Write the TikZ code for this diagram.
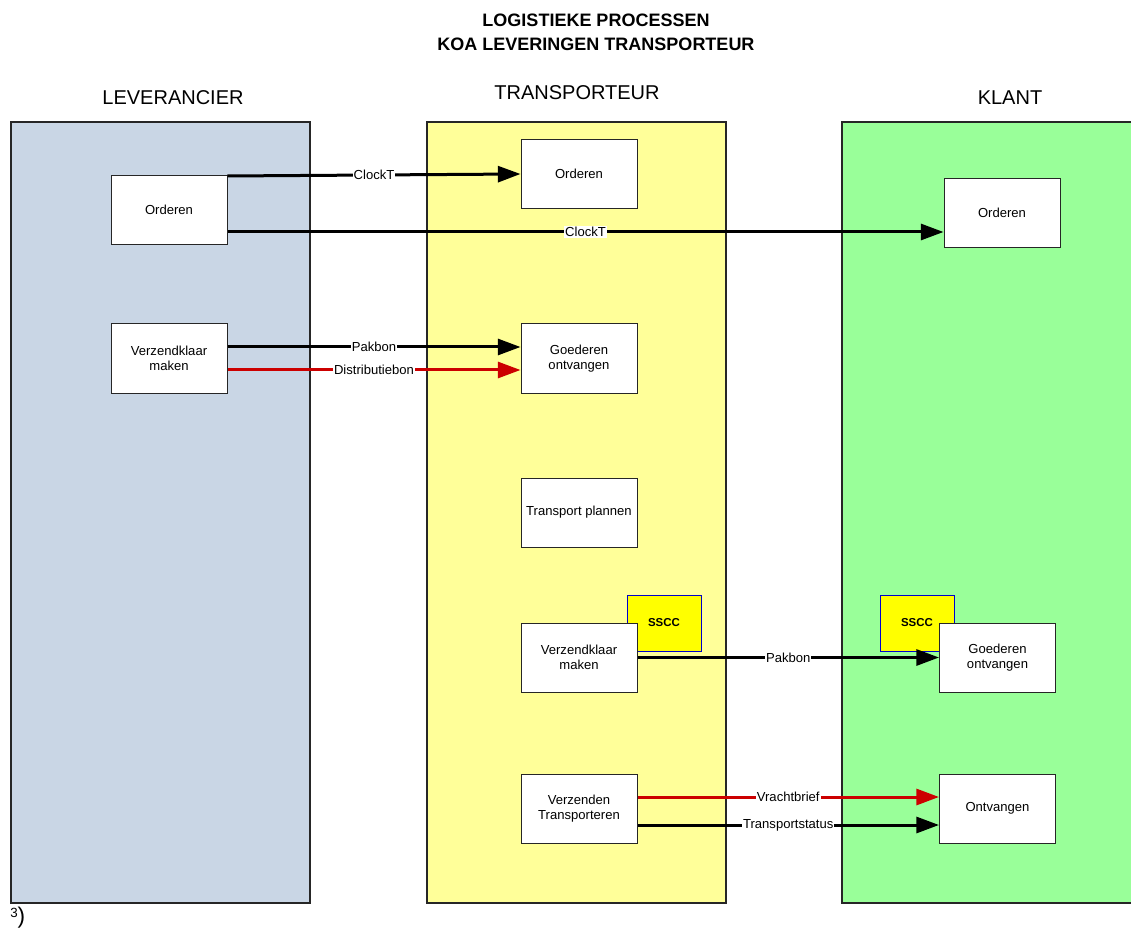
\documentclass[tikz,border=0pt]{standalone}
\usepackage{fontspec}
\setmainfont{Liberation Sans}
\usetikzlibrary{arrows.meta,calc}

\definecolor{laneblue}{RGB}{201,214,229}
\definecolor{laneyellow}{RGB}{255,255,153}
\definecolor{lanegreen}{RGB}{153,255,153}
\definecolor{ssccyellow}{RGB}{255,255,0}
\definecolor{flowred}{RGB}{204,0,0}

\tikzset{
  lane/.style={draw=black!85, line width=0.9pt, minimum width=224.25pt, minimum height=585.75pt, inner sep=0pt},
  lanehead/.style={font=\fontsize{15}{18}\selectfont},
  procbox/.style={draw=black!85, fill=white, line width=0.75pt, minimum width=87pt, minimum height=51.75pt,
    inner sep=0pt, align=center, font=\fontsize{9.8}{11.5}\selectfont},
  ssccbox/.style={draw=blue!80!black, fill=ssccyellow, line width=0.6pt, minimum width=55.5pt, minimum height=42pt,
    inner sep=0pt, font=\bfseries\fontsize{8.6}{10}\selectfont},
  flow/.style={line width=2.25pt, -{Triangle[length=17pt,width=12pt]}},
  redflow/.style={flow, draw=flowred, color=flowred},
  flowlabel/.style={fill=white, inner sep=0.8pt, text=black, font=\fontsize{9.8}{11}\selectfont},
}

\begin{document}
\begin{tikzpicture}[x=0.75pt, y=-0.75pt]
\useasboundingbox (0,0) rectangle (1131,930);

% title
\node[font=\bfseries\fontsize{13.5}{16}\selectfont] (title1) at (596,20) {LOGISTIEKE PROCESSEN};
\node[font=\bfseries\fontsize{13.5}{16}\selectfont] (title2) at (596,44) {KOA LEVERINGEN TRANSPORTEUR};

% lane headers
\node[lanehead] (hlev) at (173,98) {LEVERANCIER};
\node[lanehead] (htra) at (577,93) {TRANSPORTEUR};
\node[lanehead] (hkla) at (1010,98) {KLANT};

% swim lanes
\node[lane, fill=laneblue] (lanelev) at (160.5,512.5) {};
\node[lane, fill=laneyellow] (lanetra) at (576.5,512.5) {};
\fill[lanegreen] (842,122) rectangle (1131,903);
\draw[black!85, line width=0.9pt] (1131,122) -- (842,122) -- (842,903) -- (1131,903);

% SSCC labels (behind the process boxes)
\node[ssccbox] (sscct) at (664,623) {SSCC};
\node[ssccbox] (sscck) at (917,623) {SSCC};

% process boxes
\node[procbox] (lorder) at (169,210)   {Orderen};
\node[procbox] (torder) at (579,174)   {Orderen};
\node[procbox] (korder) at (1002,213)  {Orderen};
\node[procbox] (lverz)  at (169,358.5) {Verzendklaar\\maken};
\node[procbox] (tgoed)  at (579,358.5) {Goederen\\ontvangen};
\node[procbox] (tplan)  at (579,512.5) {Transport plannen};
\node[procbox] (tverz)  at (579,657.5) {Verzendklaar\\maken};
\node[procbox] (kgoed)  at (997.5,657.5) {Goederen\\ontvangen};
\node[procbox] (tvzd)   at (579,808.5) {Verzenden\\Transporteren};
\node[procbox] (kontv)  at (997.5,808.5) {Ontvangen};

% message flows
\coordinate (c1) at ($(lorder.north east)+(0,1)$);
\draw[flow] (c1) -- node[flowlabel] {ClockT} (torder.west);

\coordinate (c2) at ($(lorder.south east)+(0,-13)$);
\draw[flow] (c2) -- node[flowlabel] {ClockT} (c2 -| korder.west);

\coordinate (c3) at ($(lverz.east)+(0,-11.5)$);
\draw[flow] (c3) -- node[flowlabel] {Pakbon} (c3 -| tgoed.west);

\coordinate (c4) at ($(lverz.east)+(0,11.5)$);
\draw[redflow] (c4) -- node[flowlabel] {Distributiebon} (c4 -| tgoed.west);

\draw[flow] (tverz.east) -- node[flowlabel] {Pakbon} (kgoed.west);

\coordinate (c5) at ($(tvzd.east)+(0,-11.5)$);
\draw[redflow] (c5) -- node[flowlabel] {Vrachtbrief} (c5 -| kontv.west);

\coordinate (c6) at ($(tvzd.east)+(0,16.5)$);
\draw[flow] (c6) -- node[flowlabel] {Transportstatus} (c6 -| kontv.west);

% footnote mark
\node[anchor=west, inner sep=0pt] (fn) at (10,918) {{\fontsize{10}{10}\selectfont\raisebox{5pt}{3}}\fontsize{17}{17}\selectfont)};
\end{tikzpicture}
\end{document}
